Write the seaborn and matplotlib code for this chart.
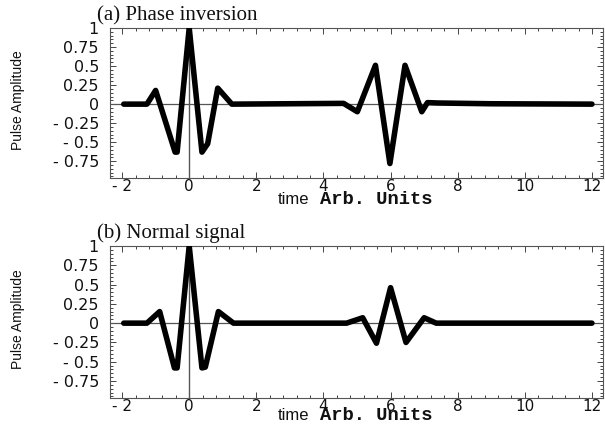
import numpy as np
import matplotlib
matplotlib.use("Agg")
import matplotlib.pyplot as plt
import matplotlib.ticker as mticker
import seaborn as sns
import pandas as pd

# ---- data ----
t_a = [-1.95, -1.26, -1.0, -0.42, -0.36, 0.0, 0.38, 0.55, 0.85, 1.27, 4.6, 5.01, 5.55, 5.98, 6.43, 6.93, 7.1, 7.4, 9.0, 12.0]
amp_a = [0.0, 0.0, 0.18, -0.63, -0.63, 1.0, -0.63, -0.52, 0.21, 0.0, 0.01, -0.10, 0.51, -0.78, 0.51, -0.10, 0.02, 0.015, 0.005, 0.0]

t_b = [-1.95, -1.26, -0.88, -0.44, -0.36, 0.0, 0.38, 0.48, 0.87, 1.32, 4.69, 5.17, 5.58, 6.0, 6.46, 7.0, 7.36, 12.0]
amp_b = [0.0, 0.0, 0.15, -0.58, -0.58, 1.0, -0.58, -0.57, 0.15, 0.0, 0.0, 0.07, -0.26, 0.46, -0.25, 0.07, 0.0, 0.0]

titles = ["(a) Phase inversion", "(b) Normal signal"]
x_ticks = [-2, 0, 2, 4, 6, 8, 10, 12]
x_ticklabels = ["- 2", "0", "2", "4", "6", "8", "10", "12"]
y_ticks = [1, 0.75, 0.5, 0.25, 0, -0.25, -0.5, -0.75]
y_ticklabels = ["1", "0.75", "0.5", "0.25", "0", "- 0.25", "- 0.5", "- 0.75"]

sns.set_theme(style="ticks")
plt.rcParams["font.family"] = ["DejaVu Sans"]

W, H = 605, 426
fig = plt.figure(figsize=(W / 100, H / 100), dpi=100)

def fx(px):
    return px / W

def fy(py):
    return 1 - py / H

panels = [
    (t_a, amp_a, 28, 178, titles[0], 26),
    (t_b, amp_b, 246, 398, titles[1], 22),
]

for t, amp, ytop, ybot, title, xlab_off in panels:
    ax = fig.add_axes([fx(110), fy(ybot), fx(603) - fx(110), fy(ytop) - fy(ybot)])
    df = pd.DataFrame({"t": t, "amp": amp})
    ax.axhline(0, color="#555555", lw=0.9, zorder=1)
    ax.plot([0, 0], [-0.97, 1.0], color="#555555", lw=1.0, zorder=1)
    sns.lineplot(data=df, x="t", y="amp", ax=ax, color="black", lw=4.0,
                 estimator=None, sort=False, zorder=3)
    ax.set_xlim(-2.36, 12.33)
    ax.set_ylim(-0.97, 1.0)
    ax.set_xlabel("")
    ax.set_ylabel("")
    ax.xaxis.set_major_locator(mticker.FixedLocator(x_ticks))
    ax.xaxis.set_major_formatter(mticker.FixedFormatter(x_ticklabels))
    ax.xaxis.set_minor_locator(mticker.MultipleLocator(0.4))
    ax.yaxis.set_major_locator(mticker.FixedLocator(y_ticks))
    ax.yaxis.set_major_formatter(mticker.FixedFormatter(y_ticklabels))
    ax.yaxis.set_minor_locator(mticker.MultipleLocator(0.05))
    ax.tick_params(which="both", direction="in", top=True, right=True,
                   color="#444444", width=0.7)
    ax.tick_params(which="major", length=4)
    ax.tick_params(which="minor", length=2)
    ax.tick_params(axis="x", labelsize=11, pad=1)
    ax.tick_params(axis="y", labelsize=11.5, pad=8)
    for lab in ax.get_xticklabels() + ax.get_yticklabels():
        lab.set_color("#111111")
    for s in ax.spines.values():
        s.set_color("#555555")
        s.set_linewidth(0.8)

    fig.text(fx(97), fy(ytop - 8), title, family="Liberation Serif",
             fontsize=15, ha="left", va="baseline", color="#111111")
    fig.text(fx(18), fy((ytop + ybot) / 2 - 3), "Pulse Amplitude",
             family=["Liberation Sans"], fontsize=10,
             rotation=90, ha="center", va="center", color="#111111")
    fig.text(fx(278), fy(ybot + xlab_off), "time", family="Liberation Sans",
             fontsize=12, ha="left", va="baseline", color="#111111")
    fig.text(fx(320), fy(ybot + xlab_off), "Arb. Units", family="Liberation Mono",
             fontweight="bold", fontsize=13.5, ha="left", va="baseline",
             color="#111111")

fig.savefig("out.png", dpi=100)
